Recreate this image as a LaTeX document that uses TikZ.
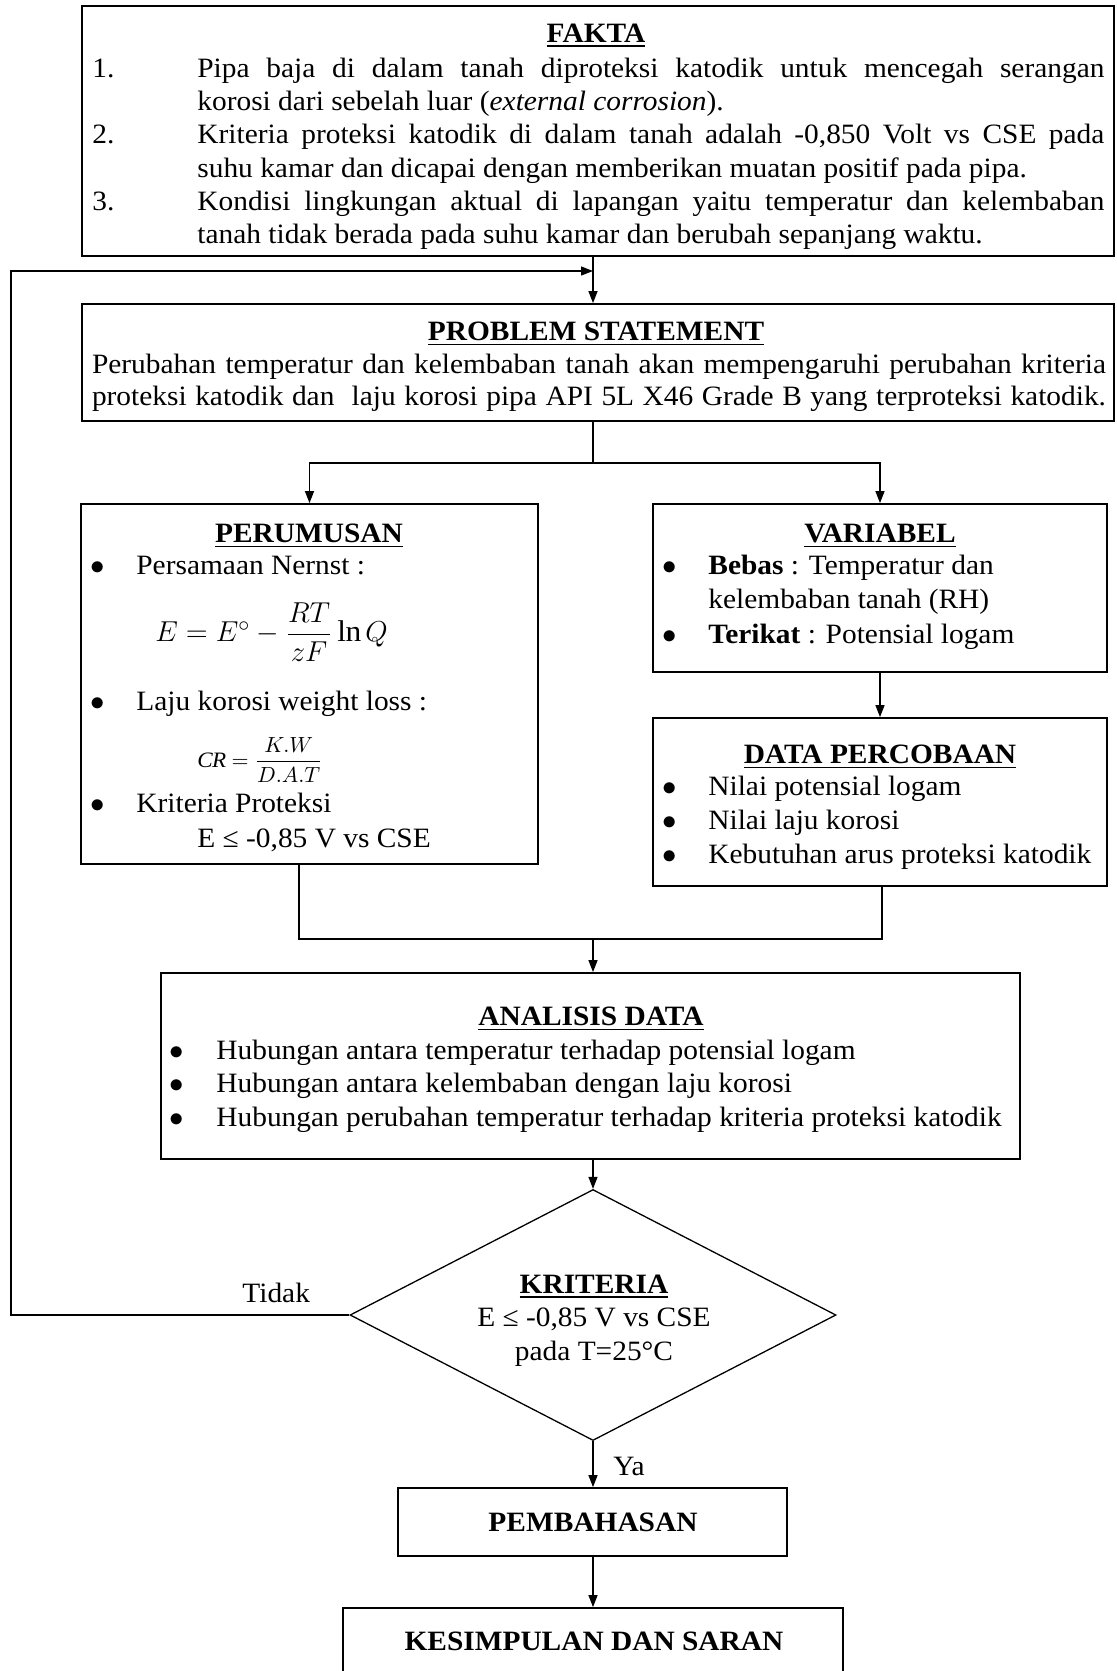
\documentclass[tikz,border=0pt]{standalone}
\usepackage{amsmath}
\usepackage{fontspec}
\setmainfont{Liberation Serif}[FakeStretch=1.05]
\usetikzlibrary{shapes.geometric,arrows.meta,fit}
\begin{document}
\begin{tikzpicture}[x=0.5pt,y=-0.5pt,
  box/.style={draw, line width=0.9pt, inner sep=0pt},
  conn/.style={line width=0.65pt},
  arr/.style={conn, -{Triangle[length=6pt,width=4.5pt]}},
  txt/.style={inner sep=0pt, anchor=base west, font=\fontsize{14}{16}\selectfont},
  ctxt/.style={txt, anchor=base},
  ttl/.style={ctxt, font=\fontsize{14}{16}\selectfont\bfseries},
  bul/.style={ctxt, font=\fontsize{14}{16}\selectfont},
]
\newcommand{\bigbul}{$\bullet$}
\clip (0,0) rectangle (1116,1671);

% ---------- boxes ----------
\node[box, fit={(82,6) (1114,256)}] (fakta) {};
\node[box, fit={(82,304) (1114,421)}] (ps) {};
\node[box, fit={(81,504) (538,864)}] (perum) {};
\node[box, fit={(653,504) (1107,672)}] (var) {};
\node[box, fit={(653,718) (1107,886)}] (data) {};
\node[box, fit={(161,973) (1020,1159)}] (ana) {};
\node[draw, diamond, line width=0.65pt, aspect=1.94, inner sep=0pt,
      minimum width=243pt, minimum height=125.5pt] (dia) at (593,1315) {};
\node[box, fit={(398,1488) (787,1556)}] (pem) {};
\node[box, fit={(343,1608) (843,1700)}] (kes) {};

% ---------- FAKTA ----------
\node[ttl] (faktaT) at (596,42) {\underline{FAKTA}};
\node[txt] (n1) at (92,77) {1.};
\node[txt] (n2) at (92,143) {2.};
\node[txt] (n3) at (92,210) {3.};
\node[txt] (f1a) at (197,77) {\makebox[453.5pt][s]{Pipa baja di dalam tanah diproteksi katodik untuk mencegah serangan}};
\node[txt] (f1b) at (197,110) {korosi dari sebelah luar (\textit{external corrosion}).};
\node[txt] (f2a) at (197,143) {\makebox[453.5pt][s]{Kriteria proteksi katodik di dalam tanah adalah -0,850 Volt vs CSE pada}};
\node[txt] (f2b) at (197,177) {suhu kamar dan dicapai dengan memberikan muatan positif pada pipa.};
\node[txt] (f3a) at (197,210) {\makebox[453.5pt][s]{Kondisi lingkungan aktual di lapangan yaitu temperatur dan kelembaban}};
\node[txt] (f3b) at (197,243) {tanah tidak berada pada suhu kamar dan berubah sepanjang waktu.};

% ---------- PROBLEM STATEMENT ----------
\node[ttl] (psT) at (596,340) {\underline{PROBLEM STATEMENT}};
\node[ctxt] (p1) at (599,373) {\makebox[507pt][s]{Perubahan temperatur dan kelembaban tanah akan mempengaruhi perubahan kriteria}};
\node[ctxt] (p2) at (599,405) {\makebox[507pt][s]{proteksi katodik dan\ \ laju korosi pipa API 5L X46 Grade B yang terproteksi katodik.}};

% ---------- PERUMUSAN ----------
\node[ttl] (perT) at (309,542) {\underline{PERUMUSAN}};
\node[bul] (pb1) at (98,574) {\bigbul};
\node[txt] (pt1) at (136,574) {Persamaan Nernst :};
\node[inner sep=0pt, anchor=west, font=\fontsize{15}{18}\selectfont] (eq1) at (155,632)
  {$E = E^{\circ} - \dfrac{RT}{zF}\ln Q$};
\node[bul] (pb2) at (98,710) {\bigbul};
\node[txt] (pt2) at (136,710) {Laju korosi weight loss :};
\node[inner sep=0pt, anchor=west, font=\fontsize{11}{13}\selectfont] (eq2) at (197,760)
  {$\mathit{CR} = \dfrac{K.W}{D.A.T}$};
\node[bul] (pb3) at (98,812) {\bigbul};
\node[txt] (pt3) at (136,812) {Kriteria Proteksi};
\node[txt] (pt4) at (197,847) {E ≤ -0,85 V vs CSE};

% ---------- VARIABEL ----------
\node[ttl] (varT) at (880,542) {\underline{VARIABEL}};
\node[bul] (vb1) at (670,574) {\bigbul};
\node[txt] (vt1) at (708,574) {\textbf{Bebas} : Temperatur dan};
\node[txt] (vt2) at (708,608) {kelembaban tanah (RH)};
\node[bul] (vb2) at (670,643) {\bigbul};
\node[txt] (vt3) at (708,643) {\textbf{Terikat} : Potensial logam};

% ---------- DATA PERCOBAAN ----------
\node[ttl] (dataT) at (880,763) {\underline{DATA PERCOBAAN}};
\node[bul] (db1) at (670,795) {\bigbul};
\node[txt] (dt1) at (708,795) {Nilai potensial logam};
\node[bul] (db2) at (670,829) {\bigbul};
\node[txt] (dt2) at (708,829) {Nilai laju korosi};
\node[bul] (db3) at (670,863) {\bigbul};
\node[txt] (dt3) at (708,863) {Kebutuhan arus proteksi katodik};

% ---------- ANALISIS DATA ----------
\node[ttl] (anaT) at (591,1025) {\underline{ANALISIS DATA}};
\node[bul] (ab1) at (177,1059) {\bigbul};
\node[txt] (at1) at (216,1059) {Hubungan antara temperatur terhadap potensial logam};
\node[bul] (ab2) at (177,1092) {\bigbul};
\node[txt] (at2) at (216,1092) {Hubungan antara kelembaban dengan laju korosi};
\node[bul] (ab3) at (177,1126) {\bigbul};
\node[txt] (at3) at (216,1126) {Hubungan perubahan temperatur terhadap kriteria proteksi katodik};

% ---------- KRITERIA ----------
\node[ttl] (kriT) at (594,1293) {\underline{KRITERIA}};
\node[ctxt] (kr1) at (594,1326) {E ≤ -0,85 V vs CSE};
\node[ctxt] (kr2) at (594,1360) {pada T=25°C};
\node[txt] (tidak) at (242,1302) {Tidak};
\node[txt] (ya) at (613,1475) {Ya};

\node[ttl] (pemT) at (593,1531) {PEMBAHASAN};
\node[ttl] (kesT) at (594,1650) {KESIMPULAN DAN SARAN};

% ---------- connectors ----------
\coordinate (cx) at (593,0);
\coordinate (lb) at (11,1315);
\coordinate (lt) at (11,271);
\coordinate (le) at (593,271);
\coordinate (sp) at (593,463);
\coordinate (ml) at (299,939);
\coordinate (mr) at (882,939);
\coordinate (mc) at (593,939);

\draw[arr] (fakta.south -| cx) -- (ps.north -| cx);
\draw[arr] (dia.west) -- (lb) -- (lt) -- (le);
\draw[conn] (ps.south -| cx) -- (sp);
\draw[arr] (sp) -| (perum.north);
\draw[arr] (sp) -| (var.north);
\draw[arr] (var.south) -- (data.north);
\draw[conn] (perum.south -| ml) -- (ml) -- (mr) -- (data.south -| mr);
\draw[arr] (mc) -- (ana.north -| mc);
\draw[arr] (ana.south -| cx) -- (dia.north);
\draw[arr] (dia.south) -- (pem.north -| dia.south);
\draw[arr] (pem.south -| dia.south) -- (kes.north -| dia.south);
\end{tikzpicture}
\end{document}
